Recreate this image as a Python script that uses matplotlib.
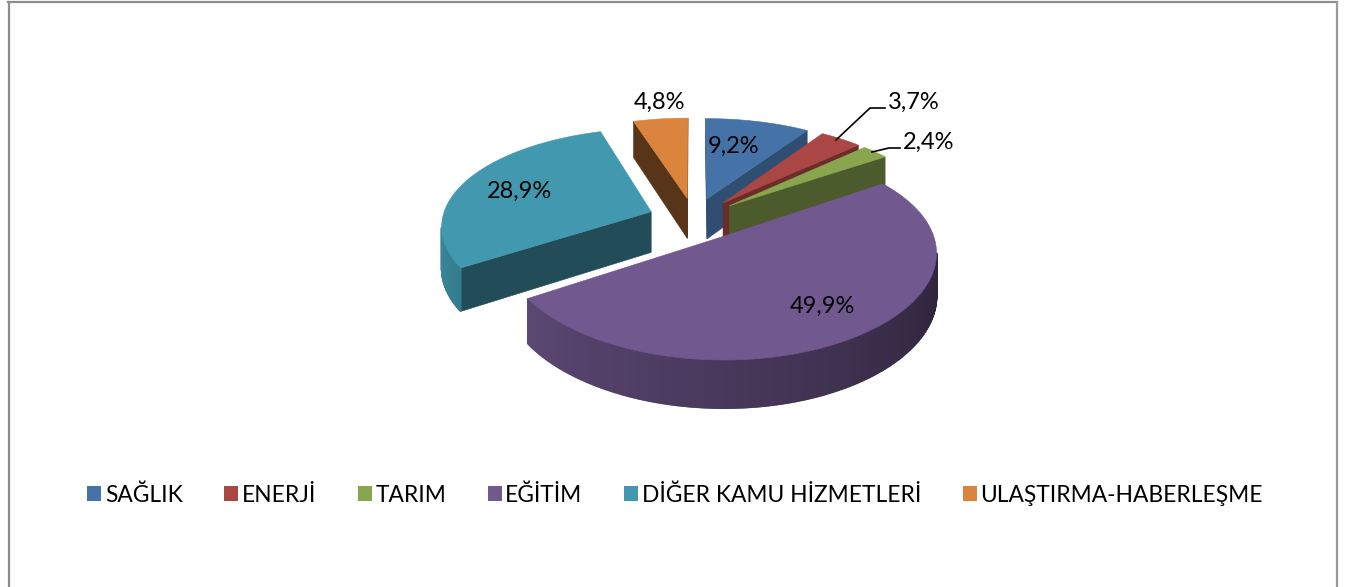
import numpy as np
import matplotlib
matplotlib.use('Agg')
import matplotlib.pyplot as plt
from matplotlib.patches import Polygon, Patch
from matplotlib.colors import to_rgb

categories = ['SAĞLIK', 'ENERJİ', 'TARIM', 'EĞİTİM', 'DİĞER KAMU HİZMETLERİ', 'ULAŞTIRMA-HABERLEŞME']
values = [9.2, 3.7, 2.4, 49.9, 28.9, 4.8]
labels = ['9,2%', '3,7%', '2,4%', '49,9%', '28,9%', '4,8%']
colors = ['#4572A7', '#AA4643', '#89A54E', '#71588F', '#4198AF', '#DB843D']
face_shade = [0.68, 0.63, 0.55, 0.5, 0.5, 0.4]

# pie geometry in screen pixels
CX, CY = 694, 219
RX, RY = 209, 98
PERSP_X, PERSP_Y = 0.13, 0.15
DEPTH = 41
EXPLODE = 0.22

plt.rcParams['font.family'] = ['Lato', 'DejaVu Sans']

fig = plt.figure(figsize=(13.46, 5.87), dpi=100)
ax = fig.add_axes([0, 0, 1, 1])
ax.set_xlim(0, 1346)
ax.set_ylim(587, 0)
ax.axis('off')


def project(u, v, bottom=False):
    fx = 1 / (1 + PERSP_X * v)
    fy = 1 / (1 + PERSP_Y * v)
    x = CX + RX * u * fx
    y = CY - RY * v * fy
    if bottom:
        y = y + DEPTH * (1 + 0.8 * (fy - 1))
    return x, y


def mix(color, k):
    return tuple(c * k for c in to_rgb(color))


def wall_shade(deg):
    return 0.37 + 0.003 * max(deg - 90, 0)


total = sum(values)
start = 0
for i in range(len(values)):
    sweep = values[i] / total * 360
    stop = start + sweep
    mid = np.radians(start + sweep / 2)
    u0, v0 = EXPLODE * np.sin(mid), EXPLODE * np.cos(mid)
    degs = np.linspace(start, stop, max(int(sweep * 2), 8))
    us = u0 + np.sin(np.radians(degs))
    vs = v0 + np.cos(np.radians(degs))
    tx, ty = project(us, vs)
    bx, by = project(us, vs, True)
    ax_, ay_ = project(u0, v0)
    abx, aby = project(u0, v0, True)

    # radial faces, only the ones turned to the viewer
    dark = mix(colors[i], face_shade[i])
    if tx[0] < ax_:
        ax.add_patch(Polygon([(ax_, ay_), (tx[0], ty[0]), (bx[0], by[0]), (abx, aby)],
                             fc=dark, ec=dark, lw=0.4))
    if tx[-1] > ax_:
        ax.add_patch(Polygon([(ax_, ay_), (tx[-1], ty[-1]), (bx[-1], by[-1]), (abx, aby)],
                             fc=dark, ec=dark, lw=0.4))
    # outer wall, drawn in strips to get the shading
    for j in range(len(degs) - 1):
        if tx[j + 1] < tx[j]:
            c = mix(colors[i], wall_shade((degs[j] + degs[j + 1]) / 2))
            ax.add_patch(Polygon([(tx[j], ty[j]), (tx[j + 1], ty[j + 1]), (bx[j + 1], by[j + 1]), (bx[j], by[j])],
                                 fc=c, ec=c, lw=1.2))
    top = [(ax_, ay_)] + list(zip(tx, ty))
    ax.add_patch(Polygon(top, fc=colors[i], ec=colors[i], lw=0.4))
    start = stop

# data labels
label_pos = [(734, 146), (914, 102), (929, 142), (822, 306), (520, 191), (659, 102)]
for i in range(len(labels)):
    ax.text(label_pos[i][0], label_pos[i][1], labels[i], fontsize=17, color='black', ha='center', va='center')

# leader lines
ax.plot([836, 870, 885], [140, 108, 108], color='black', lw=1.2)
ax.plot([872, 889, 900], [152, 148, 148], color='black', lw=1.2)

# chart frame
ax.plot([9, 9], [2, 587], color='#8c8c8c', lw=1.6)
ax.plot([8, 1337], [2, 2], color='#8c8c8c', lw=1.6)
ax.plot([1337, 1337], [2, 587], color='#9a9a9a', lw=1.6)

handles = [Patch(fc=c, ec='none') for c in colors]
ax.legend(handles, categories, ncols=6, loc='center', bbox_to_anchor=(675 / 1346, 1 - 495 / 587),
          frameon=False, fontsize=16.4, handlelength=0.62, handleheight=0.62, handletextpad=0.15,
          columnspacing=1.83, borderpad=0)

fig.savefig('out.png', dpi=100)
